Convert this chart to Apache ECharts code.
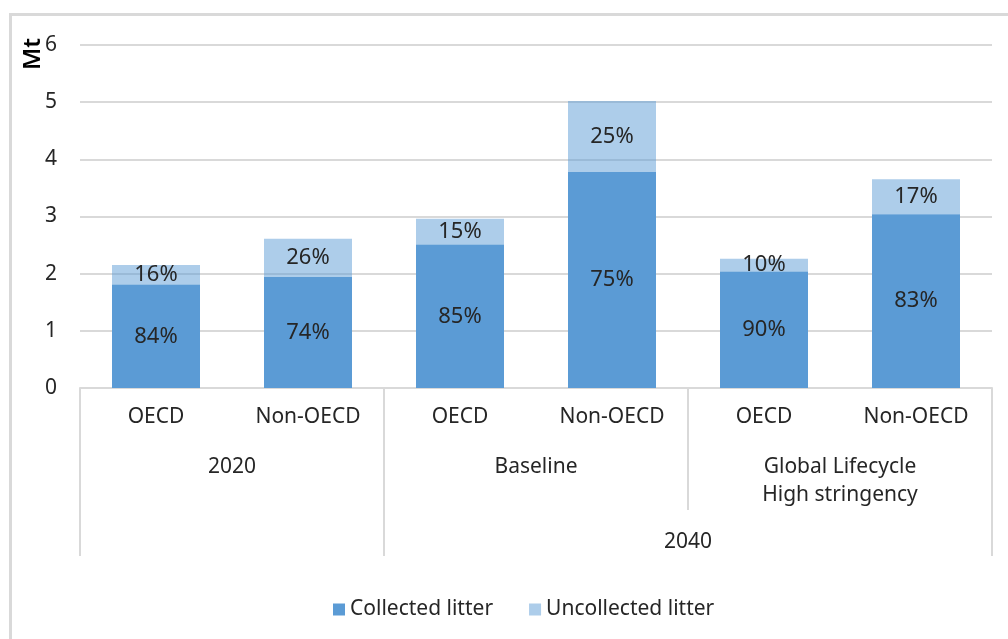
<!DOCTYPE html>
<html>
<head>
<meta charset="utf-8">
<script src="https://cdn.jsdelivr.net/npm/echarts@6/dist/echarts.min.js"></script>
<style>
    html, body { margin: 0; padding: 0; background: #fff; }
    .frame {
        position: absolute;
        left: 9px;
        top: 13px;
        width: 999px;
        height: 626px;
        border-left: 3px solid #d9d9d9;
        border-top: 3px solid #d9d9d9;
    }
    #chart {
        position: absolute;
        left: 0;
        top: 0;
        width: 1008px;
        height: 639px;
    }
</style>
</head>
<body>
<div class="frame"></div>
<div id="chart"></div>
<script>
// chart data
const categories = ['OECD', 'Non-OECD', 'OECD', 'Non-OECD', 'OECD', 'Non-OECD'];
const scenarios = ['2020', 'Baseline', 'Global Lifecycle\nHigh stringency'];
const years = ['2040'];
const collected = [1.81, 1.94, 2.51, 3.78, 2.04, 3.04];
const uncollected = [0.34, 0.67, 0.45, 1.24, 0.22, 0.61];
const collectedShare = [84, 74, 85, 75, 90, 83];
const uncollectedShare = [16, 26, 15, 25, 10, 17];
const yTicks = [0, 1, 2, 3, 4, 5, 6];

const font = 'Noto Sans';
const textColor = '#262626';
const lineColor = '#d9d9d9';

var myChart = echarts.init(document.getElementById('chart'), null, { renderer: 'canvas' });
var option = {
    backgroundColor: 'transparent',
    textStyle: { fontFamily: font },
    grid: { left: 80, right: 16, top: 45, bottom: 251, containLabel: false },
    legend: {
        left: 328,
        top: 594,
        icon: 'rect',
        itemWidth: 12,
        itemHeight: 12,
        itemGap: 36,
        textStyle: { fontFamily: font, fontSize: 21, color: textColor },
        data: ['Collected litter', 'Uncollected litter']
    },
    graphic: [{
        type: 'text',
        left: 21,
        top: 38,
        rotation: Math.PI / 2,
        style: { text: 'Mt', font: '600 24px "Noto Sans"', fill: '#000' }
    }],
    xAxis: [
        {
            type: 'category',
            data: categories,
            axisLine: { show: true, lineStyle: { color: lineColor, width: 2 } },
            axisTick: { show: false },
            axisLabel: { margin: 19, fontSize: 21, color: textColor, interval: 0 }
        },
        {
            type: 'category',
            data: scenarios,
            position: 'bottom',
            axisLine: { show: false },
            axisTick: { show: true, length: 122, lineStyle: { color: lineColor, width: 2 } },
            axisLabel: { margin: 65, fontSize: 21, color: textColor, interval: 0, lineHeight: 28 },
            splitLine: { show: false }
        },
        {
            type: 'value',
            min: 0,
            max: 3,
            position: 'bottom',
            axisLine: { show: false },
            axisTick: { show: true, length: 168, customValues: [0, 1, 3], lineStyle: { color: lineColor, width: 2 } },
            axisLabel: {
                margin: 144, fontSize: 21, color: textColor, customValues: [2],
                formatter: function () { return years[0]; }
            },
            splitLine: { show: false }
        }
    ],
    yAxis: {
        type: 'value',
        min: yTicks[0],
        max: yTicks[yTicks.length - 1],
        interval: 1,
        axisLine: { show: false },
        axisTick: { show: false },
        axisLabel: { margin: 23, fontSize: 21, color: textColor },
        splitLine: { lineStyle: { color: lineColor, width: 2 } }
    },
    series: [
        {
            name: 'Collected litter',
            type: 'bar',
            stack: 'total',
            barWidth: 88,
            itemStyle: { color: '#5b9bd5' },
            label: {
                show: true,
                position: 'inside',
                fontSize: 22,
                color: textColor,
                formatter: function (p) { return collectedShare[p.dataIndex] + '%'; }
            },
            data: collected
        },
        {
            name: 'Uncollected litter',
            type: 'bar',
            stack: 'total',
            barWidth: 88,
            itemStyle: { color: 'rgba(91,155,213,0.5)' },
            label: {
                show: true,
                position: 'inside',
                fontSize: 22,
                color: textColor,
                formatter: function (p) { return uncollectedShare[p.dataIndex] + '%'; }
            },
            data: uncollected
        }
    ]
};
myChart.setOption(option);
window.addEventListener('resize', () => {
    myChart.resize();
});
</script>
</body>
</html>
